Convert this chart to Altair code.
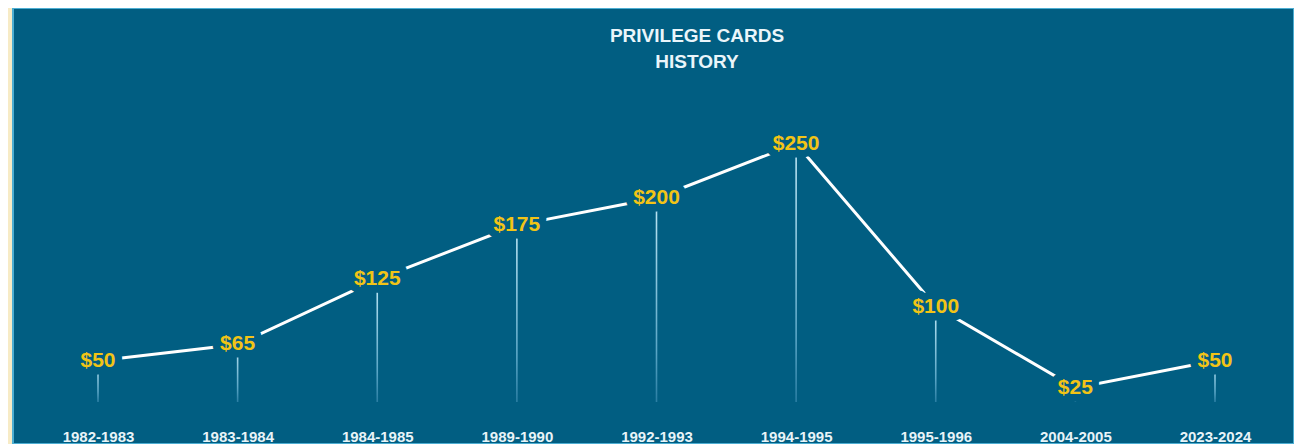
import altair as alt
import pandas as pd

periods = ["1982-1983", "1983-1984", "1984-1985", "1989-1990", "1992-1993",
           "1994-1995", "1995-1996", "2004-2005", "2023-2024"]
prices = [50, 65, 125, 175, 200, 250, 100, 25, 50]
title_lines = ["PRIVILEGE CARDS", "HISTORY"]
rule_base = 12  # where the thin vertical guides fade out (price units)

df = pd.DataFrame({"period": periods, "price": prices})
df["label"] = ["$" + str(p) for p in prices]
title_df = pd.DataFrame({"title": ["\n".join(title_lines)]})

PANEL = "#015E82"
BEIGE = "#F7EBC6"
YELLOW = "#F2C416"
FONT = "Liberation Sans"

W, H = 1281, 436

x = alt.X(
    "period:N",
    sort=periods,
    scale=alt.Scale(type="point", range=[85, 1202], padding=0),
    axis=alt.Axis(
        title=None, domain=False, ticks=False, tickSize=0, grid=False,
        labelPadding=0, offset=-8, labelBaseline="middle", labelAngle=0,
        labelFont=FONT, labelFontSize=15, labelFontWeight="bold",
        labelColor="#E8F4F8",
    ),
)
y = alt.Y("price:Q", scale=alt.Scale(domain=[-26.7, 375.1], nice=False, zero=False), axis=None)

base = alt.Chart(df)

rules = base.mark_bar(
    size=1.6,
    color=alt.LinearGradient(
        gradient="linear",
        stops=[alt.GradientStop(color="#c0e8f6", offset=0),
               alt.GradientStop(color="#5aa6c6", offset=0.75),
               alt.GradientStop(color="#2a7ea3", offset=1)],
        x1=0, x2=0, y1=0, y2=1,
    ),
).encode(x=x, y=y, y2=alt.Y2(datum=rule_base))

line = base.mark_line(color="white", strokeWidth=3).encode(x=x, y=y)

mask = base.mark_text(
    font=FONT, fontSize=21, fontWeight="bold", baseline="middle",
    color=PANEL, stroke=PANEL, strokeWidth=15, strokeJoin="round",
).encode(x=x, y=y, text="label:N")

labels = base.mark_text(
    font=FONT, fontSize=21, fontWeight="bold", baseline="middle", color=YELLOW,
).encode(x=x, y=y, text="label:N")

title = alt.Chart(title_df).mark_text(
    font=FONT, fontSize=19, fontWeight="bold", color="#EAF5FA",
    baseline="top", align="center", lineBreak="\n", lineHeight=26,
).encode(x=alt.value(684), y=alt.value(19), text="title:N")

chart = (
    alt.layer(rules, line, mask, labels, title)
    .properties(
        width=W, height=H, background=BEIGE,
        padding={"left": 5, "top": 0, "right": 0, "bottom": 0},
        autosize=alt.AutoSizeParams(type="none"),
    )
    .configure_view(fill=PANEL, stroke="#4DAED2", strokeWidth=2)
)

chart.save("out.html", embed_options={"renderer": "svg", "actions": False})
